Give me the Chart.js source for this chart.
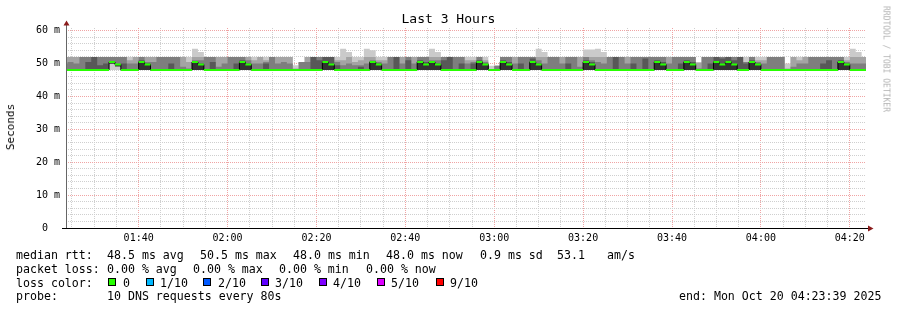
<!DOCTYPE html>
<html><head><meta charset="utf-8">
<script src="https://cdn.jsdelivr.net/npm/chart.js"></script>
<style>
html,body{margin:0;padding:0;background:#fff;}
#wrap{position:relative;width:897px;height:310px;overflow:hidden;font-family:"DejaVu Sans Mono",monospace;color:#000;}
#c{position:absolute;left:0;top:0;}
.t{position:absolute;white-space:pre;font-size:11.6px;line-height:14px;}
.box{position:absolute;width:6px;height:6px;border:1px solid #000;}
</style></head>
<body>
<div id="wrap">
<canvas id="c" width="897" height="310"></canvas>
<div class="t" style="left:0;width:897px;text-align:center;top:11px;font-size:13px;line-height:16px;">Last 3 Hours</div>
<div class="t" style="left:11px;top:127px;font-size:11px;line-height:12px;transform:translate(-50%,-50%) rotate(-90deg);">Seconds</div>
<div class="t" style="left:886px;top:59px;font-size:8px;line-height:9px;color:#b4b4b4;transform:translate(-50%,-50%) rotate(90deg);">RRDTOOL / TOBI OETIKER</div>
<div id="legend"></div>
</div>
<script>
// ---- data (minutes after midnight; one step = 80 s, first step starts 01:22:40) ----
const stepStart = 82 + 2/3;
const stepLen = 4/3;
const xMin = 83 + 39/60, xMax = 263 + 39/60;
const xTickValues = [85,90,95,100,105,110,115,120,125,130,135,140,145,150,155,160,165,170,175,180,185,190,195,200,205,210,215,220,225,230,235,240,245,250,255,260];
const yTickValues = [0,2,4,6,8,10,12,14,16,18,20,22,24,26,28,30,32,34,36,38,40,42,44,46,48,50,52,54,56,58,60];

const median = [
48,48,48,48,48,48,48,48,50.5,49.7,
48,48,48,50.5,49.7,48,48,48,48,48,
48,48,50.5,49.7,48,48,48,48,48,48,
50.5,49.7,48,48,48,48,48,48,48,48,
48,48,48,48,50.5,49.7,48,48,48,48,
48,48,50.5,49.7,48,48,48,48,48,48,
50.5,49.7,50.5,49.7,48,48,48,48,48,48,
50.5,49.7,48,48,50.5,49.7,48,48,48,50.5,
49.7,48,48,48,48,48,48,48,50.5,49.7,
48,48,48,48,48,48,48,48,48,48,
50.5,49.7,48,48,48,50.5,49.7,48,48,48,
50.5,49.7,50.5,49.7,48,48,50.5,49.7,48,48,
48,48,48,48,48,48,48,48,48,48,
48,50.5,49.7,48,48,48];
const p2 = [
48,48,48,48,48,48,48,48,50,49.2,
48,48,48,48,48,48,48,48,48,48,
48,48,48,48,48,48,48,48,48,48,
48,48,48,48,48,48,48,48,48,48,
48,48,48,48,48,48,48,48,48,48,
48,48,48,48,48,48,48,48,48,48,
48,48,48,48,48,48,48,48,48,48,
48,48,48,48,48,48,48,48,48,48,
48,48,48,48,48,48,48,48,48,48,
48,48,48,48,48,48,48,48,48,48,
48,48,48,48,48,48,48,48,48,48,
48,48,48,48,48,48,48,48,48,48,
48,48,48,48,48,48,48,48,48,48,
48,48,48,48,48,48];
const p7 = [
48,48,48,48,50.5,52,49.5,50,50.5,49.7,
50,48,48,51,50,48,48,48,50,48,
48,48,50.5,50,48,50.5,48,48,48,50,
51,50,48,48,50,48,48,48,48,48,
48,48,52,51,52,52,49.5,48,48,48,
49,48,50.5,50,48,48,52,48,51,48,
51,50.5,50.5,50,51,52,48,50,48,50,
51,50,48,48,51,50.5,48,50,48,51.5,
50,48,48,48,48,50,48,48,51,50.5,
48,48,48,52,48,48,50,48,51.5,48,
51,50.5,48,48,50,51,50.5,48,48,50,
52,51.5,52,51,52,50,51,50,48,48,
48,48,48,48,48,48,48,48,50,51,
48,51,50,48,48,48];
const p8 = [
50,50.5,50,52,52,52,52,52,52,52,
52,50,50,52,50.5,50.5,52,52,52,52,
49,48.5,51,51,52,52,49,50,52,52,
52,51,50,50,50.5,52,50,50.5,50,48,
50.5,50.5,52,52,52,52,50.5,49.5,50,49.5,
49.5,50,51,50.5,50,52,52,50,52,50,
52,52,51,51,52,52,52,52,50,50.5,
52,50.5,48,49.3,52,52,50,52,52,52,
51,50,52,52,50,52,52,49,52,51,
50.5,50,52,52,52,50,52,52,52,52,
52,52,50,52,52,52,52,48.5,52,52,
52,52,52,52,52,50.5,52,50.5,50,52,
52,52,48,49,50,50,52,52,52,52,
52,52,50.5,50,50,50];
const p9 = [
52,52,52,52,52,52,52,52,52,52,
52,51,52,52,52,52,52,52,52,52,
52,50.5,52,52,52,52,52,52,52,52,
52,52,51,52,51,52,52,52,52,48.5,
50.5,52,52,52,52,52,51,51,52,50.5,
51,52,52,51,51,52,52,52,52,52,
52,52,52,52,52,52,52,52,51,51,
52,51,48,49.3,52,52,52,52,52,52,
52,52,52,52,52,52,52,52,52,52,
52,52,52,52,52,52,52,52,52,52,
52,52,52,52,52,52,52,50.3,52,52,
52,52,52,52,52,50.5,52,51,51,52,
52,52,48.5,52,51,52,52,52,52,52,
52,52,51,52,52,52];
const p10 = [
52,52,52,52,52,52,52,52,52,52,
52,52,52,52,52,52,52,52,52,52,
52,52,54.5,53.5,52,52,52,52,52,52,
52,52,52,52,52,52,52,52,52,49.5,
50.5,52,52,52,52,52,52,54.5,53.5,52,
52,54.5,54,52,52,52,52,52,52,52,
52,52,54.5,53.5,52,52,52,52,52,52,
52,52,49.3,49.3,52,52,52,52,52,52,
54.5,53.5,52,52,52,52,52,52,54.3,54.3,
54.5,53.5,52,52,52,52,52,52,52,52,
52,52,52,52,52,52,52,50.3,52,52,
52,52,52,52,52,52,52,52,52,52,
52,52,50,52,52,52,52,52,52,52,
52,52,52,54.5,53.5,52];

const lossLabels = ['0','1/10','2/10','3/10','4/10','5/10','9/10'];
const lossColors = ['#26ff00','#00b8ff','#0059ff','#5e00ff','#7e00ff','#dd00ff','#ff0000'];

// ---- legend text ----
const legendItems = [
 [16,248,'median rtt:'],[107,248,'48.5 ms avg'],[200,248,'50.5 ms max'],[293,248,'48.0 ms min'],[386,248,'48.0 ms now'],[480,248,'0.9 ms sd'],[557,248,'53.1'],[607,248,'am/s'],
 [16,261.5,'packet loss:'],[107,261.5,'0.00 % avg'],[193,261.5,'0.00 % max'],[279,261.5,'0.00 % min'],[366,261.5,'0.00 % now'],
 [16,275.5,'loss color:'],
 [16,289,'probe:'],[107,289,'10 DNS requests every 80s'],[679,289,'end: Mon Oct 20 04:23:39 2025']
];
const lossTextX = [123,160,218,275,333,391,450];
const lossBoxX = [108,146,203,261,319,377,436];
const leg = document.getElementById('legend');
function addText(x,y,s){const d=document.createElement('div');d.className='t';d.style.left=x+'px';d.style.top=y+'px';d.textContent=s;leg.appendChild(d);}
legendItems.forEach(it=>addText(it[0],it[1],it[2]));
lossLabels.forEach((l,i)=>{addText(lossTextX[i],275.5,l);const b=document.createElement('div');b.className='box';b.style.left=lossBoxX[i]+'px';b.style.top='278px';b.style.background=lossColors[i];leg.appendChild(b);});

// ---- chart ----
function pts(arr){const out=arr.map((v,i)=>({x:stepStart+i*stepLen,y:v}));out.push({x:stepStart+arr.length*stepLen,y:arr[arr.length-1]});return out;}
// horizontal-only segments (rrd median line without vertical joins)
function segPts(arr){const out=[];arr.forEach((v,i)=>{const a=stepStart+i*stepLen,b=a+stepLen;out.push({x:a,y:v},{x:b,y:v},{x:b,y:null});});return out;}
function pad2(n){return (n<10?'0':'')+n;}
function fmtTime(v){const m=Math.round(v);return pad2(Math.floor(m/60))+':'+pad2(m%60);}
const MAJOR='#f0a4a4', MINOR='#cfcfcf';
const base={stepped:true,pointRadius:0,pointHoverRadius:0,borderWidth:0,borderColor:'rgba(0,0,0,0)',tension:0};

const axesPlugin={id:'axes',afterDatasetsDraw(chart){
  const ctx=chart.ctx, a=chart.chartArea;
  ctx.save();
  ctx.lineWidth=1;
  ctx.strokeStyle='#666';
  ctx.beginPath();ctx.moveTo(66.5,a.bottom);ctx.lineTo(66.5,25);ctx.stroke();
  ctx.strokeStyle='#000';
  ctx.beginPath();ctx.moveTo(62,a.bottom+0.5);ctx.lineTo(868,a.bottom+0.5);ctx.stroke();
  ctx.fillStyle='#8b1c1c';
  ctx.beginPath();ctx.moveTo(66.5,20.5);ctx.lineTo(69.5,25.5);ctx.lineTo(63.5,25.5);ctx.closePath();ctx.fill();
  ctx.beginPath();ctx.moveTo(873.5,a.bottom+0.5);ctx.lineTo(868,a.bottom-2.5);ctx.lineTo(868,a.bottom+3.5);ctx.closePath();ctx.fill();
  ctx.restore();
}};

new Chart(document.getElementById('c'),{
  type:'line',
  data:{datasets:[
    {label:'median',data:segPts(median),stepped:false,spanGaps:false,borderColor:'#26ff00',borderWidth:2,borderCapStyle:'butt',pointRadius:0,pointHoverRadius:0,fill:false,tension:0},
    Object.assign({},base,{data:pts(median),borderColor:'#000',borderWidth:1,backgroundColor:'#323232',fill:6}),
    Object.assign({},base,{data:pts(p7),backgroundColor:'#585858',fill:6}),
    Object.assign({},base,{data:pts(p8),backgroundColor:'#7e7e7e',fill:6}),
    Object.assign({},base,{data:pts(p9),backgroundColor:'#a4a4a4',fill:6}),
    Object.assign({},base,{data:pts(p10),backgroundColor:'#cacaca',fill:{value:48}}),
    Object.assign({},base,{data:pts(p2),backgroundColor:'rgba(0,0,0,0)',fill:false})
  ]},
  options:{
    responsive:false,animation:false,devicePixelRatio:1,
    layout:{padding:{left:0,right:31,top:28,bottom:0}},
    plugins:{legend:{display:false},tooltip:{enabled:false},title:{display:false}},
    scales:{
      x:{type:'linear',min:xMin,max:xMax,
        afterBuildTicks:s=>{s.ticks=xTickValues.map(v=>({value:v}));},
        afterFit:s=>{s.height=82;},
        grid:{color:c=>(c.tick&&c.tick.value%20===0)?MAJOR:MINOR,lineWidth:1,drawTicks:false},
        border:{display:false,dash:[1,1]},
        ticks:{autoSkip:false,maxRotation:0,padding:4,color:'#000',font:{family:'DejaVu Sans Mono',size:10},
          callback:v=>(v%20===0?fmtTime(v):'')}
      },
      y:{type:'linear',min:0,max:60.8,
        afterBuildTicks:s=>{s.ticks=yTickValues.map(v=>({value:v}));},
        afterFit:s=>{s.width=66;},
        grid:{color:c=>(c.tick&&c.tick.value%10===0)?MAJOR:MINOR,lineWidth:1,drawTicks:false},
        border:{display:false,dash:[1,1]},
        ticks:{autoSkip:false,padding:6,color:'#000',font:{family:'DejaVu Sans Mono',size:10},
          callback:v=>(v%10===0?(v===0?'0  ':v+' m'):'')}
      }
    }
  },
  plugins:[axesPlugin]
});
</script>
</body></html>
